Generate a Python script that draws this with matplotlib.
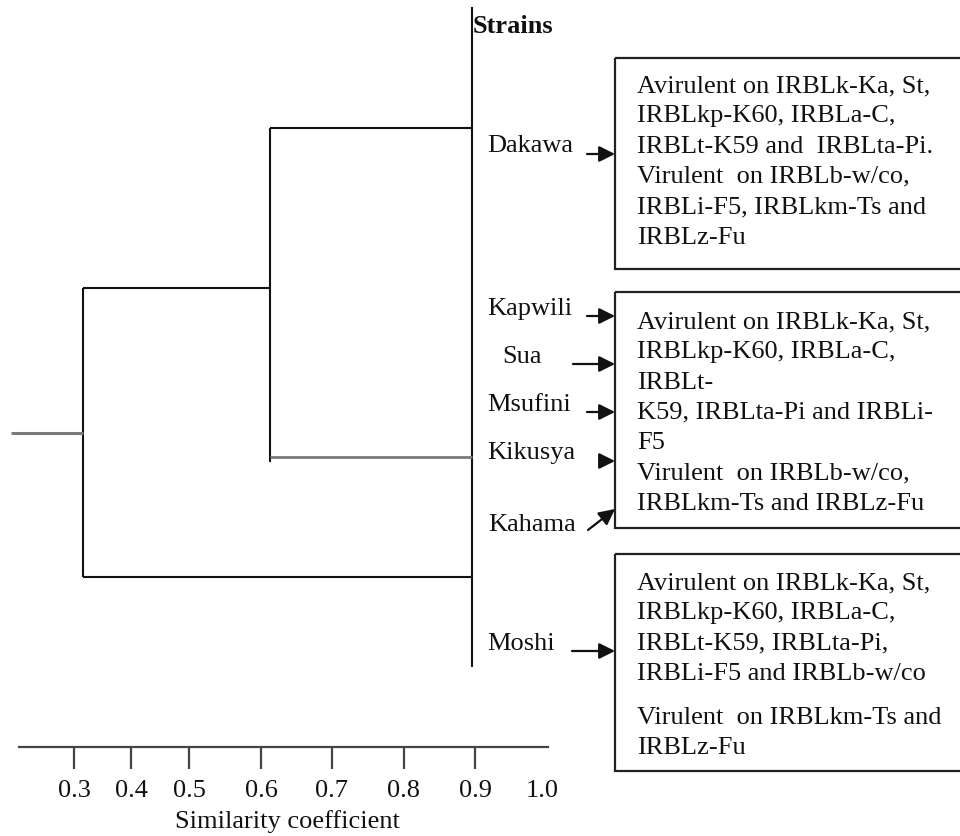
import numpy as np
import matplotlib
matplotlib.use("Agg")
import matplotlib.pyplot as plt
from matplotlib.patches import Rectangle

plt.rcParams['font.family'] = ['Liberation Serif', 'DejaVu Serif']

# ---- data ----
strains = ["Dakawa", "Kapwili", "Sua", "Msufini", "Kikusya", "Kahama", "Moshi"]
leaf_sim = 0.896        # all strains end on the "Strains" bar
node_dakawa_sim = 0.613  # Dakawa joins the Kapwili..Kahama group
root_sim = 0.316         # Moshi joins the rest
stub_sim = 0.19          # start of the root stub

tick_vals = [0.3, 0.4, 0.5, 0.6, 0.7, 0.8, 0.9, 1.0]
tick_labels = ["0.3", "0.4", "0.5", "0.6", "0.7", "0.8", "0.9", "1.0"]

box_texts = [
    ["Avirulent on IRBLk-Ka, St,", "IRBLkp-K60, IRBLa-C,",
     "IRBLt-K59 and  IRBLta-Pi.", "Virulent  on IRBLb-w/co,",
     "IRBLi-F5, IRBLkm-Ts and", "IRBLz-Fu"],
    ["Avirulent on IRBLk-Ka, St,", "IRBLkp-K60, IRBLa-C,", "IRBLt-",
     "K59, IRBLta-Pi and IRBLi-", "F5", "Virulent  on IRBLb-w/co,",
     "IRBLkm-Ts and IRBLz-Fu"],
    ["Avirulent on IRBLk-Ka, St,", "IRBLkp-K60, IRBLa-C,",
     "IRBLt-K59, IRBLta-Pi,", "IRBLi-F5 and IRBLb-w/co", None,
     "Virulent  on IRBLkm-Ts and", "IRBLz-Fu"],
]

# ---- layout (pixels) ----
# hand drawn ruler: where each tick sits on the page
ruler_sim = [0.0, 0.2] + tick_vals + [2.0]
ruler_px = [-97, 17, 74, 131, 189, 261, 332, 404, 475, 542, 1212]

def fwd(x):
    return np.interp(x, ruler_sim, ruler_px)

def inv(p):
    return np.interp(p, ruler_px, ruler_sim)

label_pos = [(487, 146), (487, 309), (502, 357), (487, 405),
             (487, 453), (488, 525), (487, 644)]
arrow_pos = [((587, 155), (615, 155)), ((587, 317), (615, 317)),
             ((573, 365), (615, 365)), ((587, 413), (615, 413)),
             ((601, 462), (615, 462)), ((588, 531), (615, 510)),
             ((572, 652), (615, 652))]
boxes = [(59, 270), (293, 529), (555, 772)]
box_first_line = [86, 322, 583]
line_step = 30.3
para_gap = 14

fig = plt.figure(figsize=(9.6, 8.37), dpi=100)

# page layer for boxes, labels and arrows
ax = fig.add_axes([0, 0, 1, 1])
ax.set_xlim(0, 960)
ax.set_ylim(837, 0)
ax.axis("off")

# tree layer with the similarity scale
tree = fig.add_axes([0, 0, 1, 1], facecolor="none")
tree.set_xscale("function", functions=(fwd, inv))
tree.set_xlim(inv(0), inv(960))
tree.set_ylim(837, 0)

black = "#111111"
grey = "#7a7a7a"

# Strains bar
tree.vlines(leaf_sim, 8, 668, color=black, lw=1.5)
# Dakawa node
tree.vlines(node_dakawa_sim, 129, 463, color=black, lw=1.5)
tree.hlines(129, node_dakawa_sim, leaf_sim, color=black, lw=1.5)
tree.hlines(458, node_dakawa_sim, leaf_sim, color=grey, lw=2)
# root node
tree.vlines(root_sim, 289, 578, color=black, lw=1.5)
tree.hlines(289, root_sim, node_dakawa_sim, color=black, lw=1.5)
tree.hlines(578, root_sim, leaf_sim, color=black, lw=1.5)
tree.hlines(434, stub_sim, root_sim, color=grey, lw=2.2)

# ruler
for s in ["top", "left", "right"]:
    tree.spines[s].set_visible(False)
tree.spines["bottom"].set_position(("data", 748))
tree.spines["bottom"].set_bounds(inv(19), inv(548))
tree.spines["bottom"].set_color("#444444")
tree.spines["bottom"].set_linewidth(1.6)
tree.set_yticks([])
tree.set_xticks(tick_vals)
tree.set_xticklabels(tick_labels)
tree.xaxis.set_minor_locator(matplotlib.ticker.NullLocator())
tree.tick_params(axis="x", direction="out", length=16, width=1.6,
                 color="#444444", pad=7, labelsize=19, labelcolor=black)
tree.xaxis.get_major_ticks()[-1].tick1line.set_visible(False)

ax.text(287, 822, "Similarity coefficient", fontsize=19, color=black,
        ha="center", va="center")

# header
ax.text(473, 26, "Strains", fontsize=19, fontweight="bold", color=black,
        ha="left", va="center")

# strain labels and arrows
for name, (x, y) in zip(strains, label_pos):
    ax.text(x, y, name, fontsize=19, color=black, ha="left", va="center")
for tail, head in arrow_pos:
    ax.annotate("", xy=head, xytext=tail,
                arrowprops=dict(arrowstyle="-|>", color=black, lw=1.6,
                                mutation_scale=24, shrinkA=0, shrinkB=0))

# boxes
for (top, bottom), lines, y0 in zip(boxes, box_texts, box_first_line):
    ax.add_patch(Rectangle((615, top), 360, bottom - top, fill=False,
                           ec="#222222", lw=1.6, clip_on=True))
    y = y0
    for line in lines:
        if line is None:
            y += para_gap
            continue
        ax.text(637, y, line, fontsize=19, color=black, ha="left", va="center")
        y += line_step

fig.savefig("out.png", dpi=100)
